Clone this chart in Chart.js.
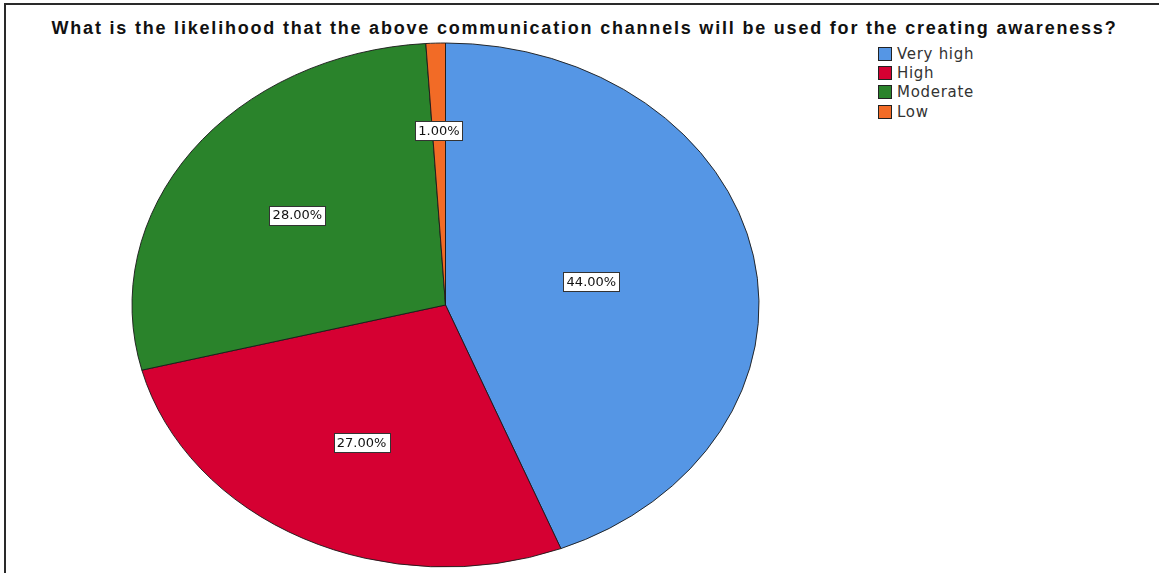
<!DOCTYPE html>
<html>
<head>
<meta charset="utf-8">
<script src="https://cdn.jsdelivr.net/npm/chart.js@4"></script>
<style>
  html, body { margin:0; padding:0; background:#fff; width:1159px; height:573px; overflow:hidden; }
  #frame { position:absolute; left:4px; top:3px; width:1200px; height:600px; border-left:2px solid #2a2a2a; border-top:2px solid #2a2a2a; }
  #title { position:absolute; left:0; width:1169px; top:18px; text-align:center; font:bold 18px "Liberation Sans", Arial, sans-serif; letter-spacing:1.8px; color:#111; white-space:nowrap; }
  #legend { position:absolute; left:878px; top:44px; font:15px "DejaVu Sans", sans-serif; letter-spacing:0.7px; color:#333; }
  #legend .row { height:19.3px; display:flex; align-items:center; }
  #legend .sw { width:12px; height:12px; border:1px solid #222; margin-right:5px; }
  canvas { position:absolute; left:0; top:0; }
</style>
</head>
<body>
<div id="frame"></div>
<div id="title">What is the likelihood that the above communication channels will be used for the creating awareness?</div>
<div id="legend"></div>
<canvas id="pie" width="1159" height="573"></canvas>
<script>
// --- Data ---
const labels = ['Very high', 'High', 'Moderate', 'Low'];
const percents = [44, 27, 28, 1];
const colors = ['#5596e5', '#d50032', '#2a832b', '#f26b26'];

// pie is drawn as an ellipse: horizontal radius RX, vertical RY
const RX = 313.5, RY = 262;

// legend
const leg = document.getElementById('legend');
labels.forEach((l, i) => {
    leg.innerHTML += `<div class="row"><div class="sw" style="background:${colors[i]}"></div><span>${l}</span></div>`;
});

// squash the circle vertically while the arcs are drawn
const ellipse = {
    id: 'ellipse',
    beforeDatasetsDraw(chart) {
        const arc = chart.getDatasetMeta(0).data[0];
        const ctx = chart.ctx;
        ctx.save();
        ctx.translate(arc.x, arc.y);
        ctx.scale(1, RY / RX);
        ctx.translate(-arc.x, -arc.y);
    },
    afterDatasetsDraw(chart) { chart.ctx.restore(); }
};

// boxed percentage labels at each slice centroid
const boxLabels = {
    id: 'boxLabels',
    afterDraw(chart) {
        const ctx = chart.ctx;
        ctx.save();
        ctx.font = '13px "DejaVu Sans", sans-serif';
        ctx.textAlign = 'center';
        ctx.textBaseline = 'middle';
        chart.getDatasetMeta(0).data.forEach((arc, i) => {
            const th = arc.endAngle - arc.startAngle;
            const mid = (arc.startAngle + arc.endAngle) / 2;
            const d = 4 * arc.outerRadius * Math.sin(th / 2) / (3 * th);
            const x = arc.x + Math.cos(mid) * d;
            const y = arc.y + Math.sin(mid) * d * RY / RX;
            const txt = percents[i].toFixed(2) + '%';
            const w = Math.round(ctx.measureText(txt).width + 6);
            const h = 19;
            const bx = Math.round(x - w / 2) + 0.5, by = Math.round(y - h / 2) + 0.5;
            ctx.fillStyle = '#fff';
            ctx.fillRect(bx, by, w, h);
            ctx.strokeStyle = '#333';
            ctx.lineWidth = 1;
            ctx.strokeRect(bx, by, w, h);
            ctx.fillStyle = '#111';
            ctx.fillText(txt, x, y + 1);
        });
        ctx.restore();
    }
};

new Chart(document.getElementById('pie'), {
    type: 'pie',
    data: {
        labels: labels,
        datasets: [{
            data: percents,
            backgroundColor: colors,
            borderColor: '#1a1a1a',
            borderWidth: 1,
            radius: RX,
            clip: false
        }]
    },
    options: {
        responsive: false,
        animation: false,
        layout: { padding: { left: 0, right: 268, top: 37, bottom: 0 } },
        plugins: { legend: { display: false }, tooltip: { enabled: false } }
    },
    plugins: [ellipse, boxLabels]
});
</script>
</body>
</html>
